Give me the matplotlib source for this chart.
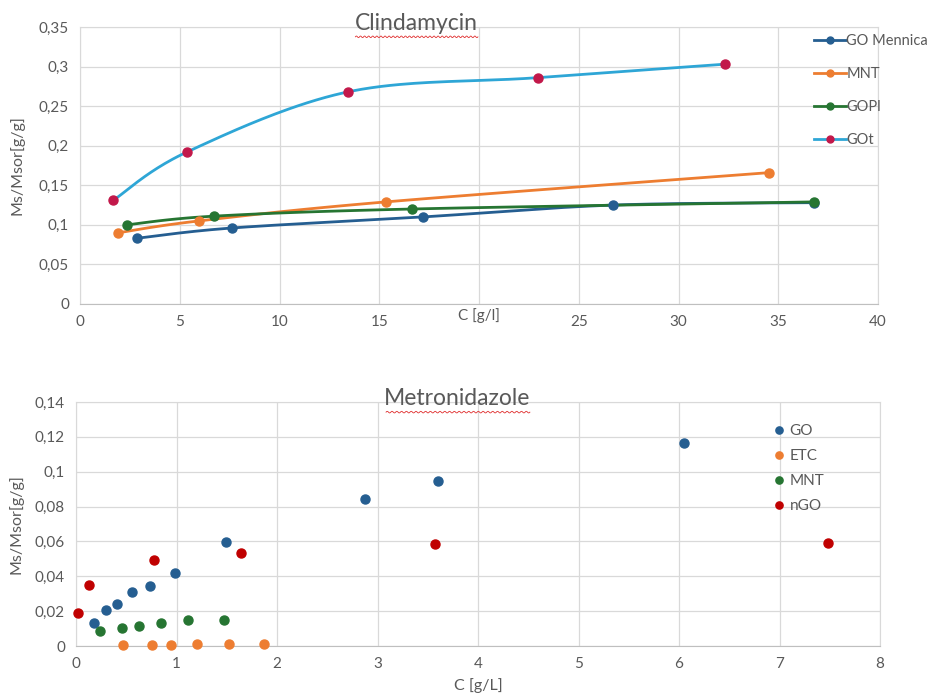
import numpy as np
import matplotlib.pyplot as plt
from matplotlib.ticker import FuncFormatter

plt.rcParams['font.family'] = ['Lato', 'DejaVu Sans']

# Clindamycin sorption isotherms
go_men_c = [2.84, 7.6, 17.19, 26.73, 36.8]
go_men_q = [0.083, 0.096, 0.110, 0.125, 0.128]
mnt_c = [1.92, 5.98, 15.34, 34.55]
mnt_q = [0.090, 0.105, 0.129, 0.166]
gopl_c = [2.34, 6.73, 16.64, 36.77]
gopl_q = [0.100, 0.111, 0.120, 0.129]
got_c = [1.67, 5.36, 13.43, 22.97, 32.33]
got_q = [0.131, 0.192, 0.268, 0.286, 0.303]

# Metronidazole sorption points
go_c = [0.18, 0.30, 0.405, 0.557, 0.739, 0.982, 1.496, 2.879, 3.60, 6.05]
go_q = [0.0134, 0.0205, 0.0241, 0.031, 0.0346, 0.0421, 0.0599, 0.0843, 0.0945, 0.1163]
etc_c = [0.471, 0.753, 0.948, 1.204, 1.519, 1.874]
etc_q = [0.0004, 0.0004, 0.0004, 0.0014, 0.0014, 0.0014]
mnt2_c = [0.239, 0.458, 0.63, 0.849, 1.117, 1.473]
mnt2_q = [0.0084, 0.0106, 0.0113, 0.0134, 0.0147, 0.0147]
ngo_c = [0.017, 0.126, 0.773, 1.642, 3.57, 7.48]
ngo_q = [0.0191, 0.0352, 0.0492, 0.0534, 0.0583, 0.0591]

BLUE = '#255E91'
ORANGE = '#ED7D31'
GREEN = '#267532'
CYAN = '#2EA6D6'
CRIMSON = '#C2184A'
RED = '#C00000'
GRID = '#D9D9D9'
TXT = '#595959'


def smooth(x, y, n=40):
    # Catmull-Rom style bezier segments, similar to spreadsheet smoothed lines
    p = np.column_stack([x, y]).astype(float)
    ext = np.vstack([p[0], p, p[-1]])
    t = np.linspace(0, 1, n)[:, None]
    out = []
    for i in range(1, len(ext) - 2):
        p0, p1, p2, p3 = ext[i - 1], ext[i], ext[i + 1], ext[i + 2]
        c1 = p1 + (p2 - p0) / 6
        c2 = p2 - (p3 - p1) / 6
        seg = ((1 - t) ** 3) * p1 + 3 * ((1 - t) ** 2) * t * c1 + 3 * (1 - t) * t ** 2 * c2 + t ** 3 * p2
        out.append(seg)
    s = np.vstack(out)
    return s[:, 0], s[:, 1]


def comma(v, pos):
    s = ('%.2f' % v).rstrip('0').rstrip('.')
    return s.replace('.', ',')


def style(ax):
    ax.grid(True, color=GRID, linewidth=0.9)
    ax.set_axisbelow(True)
    for sp in ax.spines.values():
        sp.set_color(GRID)
    ax.spines['bottom'].set_color('#BFBFBF')
    ax.tick_params(length=0, colors=TXT, labelsize=11, pad=8)
    ax.yaxis.set_major_formatter(FuncFormatter(comma))


def squiggle(x0, x1, y):
    xs = np.linspace(x0, x1, 200)
    ys = y + 0.0012 * np.sin((xs - x0) / (x1 - x0) * 2 * np.pi * 30)
    fig.add_artist(plt.Line2D(xs, ys, transform=fig.transFigure, color='#E03030', lw=0.6))


fig = plt.figure(figsize=(9.28, 6.95), dpi=100)

# --- Clindamycin ---
ax1 = fig.add_axes([0.0862, 0.5626, 0.860, 0.3986])
series = [
    (go_men_c, go_men_q, BLUE, BLUE, 'GO Mennica'),
    (mnt_c, mnt_q, ORANGE, ORANGE, 'MNT'),
    (gopl_c, gopl_q, GREEN, GREEN, 'GOPl'),
    (got_c, got_q, CYAN, CRIMSON, 'GOt'),
]
for c, q, lc, mc, name in series:
    sx, sy = smooth(c, q)
    ax1.plot(sx, sy, color=lc, lw=2, zorder=2)
    ax1.plot(c, q, 'o', color=mc, ms=6.5, zorder=3)
    ax1.plot([], [], '-o', color=lc, mfc=mc, mec=mc, ms=5, lw=2, label=name)
ax1.set_xlim(0, 40)
ax1.set_ylim(0, 0.35)
ax1.set_xticks(np.arange(0, 41, 5))
# the axis title sits where the "20" label would be
ax1.set_xticklabels(['' if v == 20 else str(v) for v in range(0, 41, 5)])
ax1.set_yticks(np.arange(0, 0.351, 0.05))
style(ax1)
ax1.set_xlabel('C [g/l]', color=TXT, fontsize=11, labelpad=-15)
ax1.set_ylabel('Ms/Msor[g/g]', color=TXT, fontsize=11.5, labelpad=10)
ax1.legend(loc='upper left', bbox_to_anchor=(0.912, 0.995), frameon=False,
           fontsize=10.5, labelcolor=TXT, handlelength=2.2, handletextpad=0.05,
           labelspacing=1.3, borderaxespad=0)
fig.text(0.449, 0.966, 'Clindamycin', ha='center', va='center', fontsize=16.5, color=TXT)
squiggle(0.383, 0.515, 0.947)

# --- Metronidazole ---
ax2 = fig.add_axes([0.0819, 0.0705, 0.8664, 0.3511])
for c, q, col, name in [(go_c, go_q, BLUE, 'GO'), (etc_c, etc_q, ORANGE, 'ETC'),
                        (mnt2_c, mnt2_q, GREEN, 'MNT'), (ngo_c, ngo_q, RED, 'nGO')]:
    ax2.plot(c, q, 'o', color=col, ms=6.5, label=name, clip_on=False, zorder=3)
ax2.set_xlim(0, 8)
ax2.set_ylim(0, 0.14)
ax2.set_xticks(np.arange(0, 9, 1))
ax2.set_yticks(np.arange(0, 0.141, 0.02))
style(ax2)
ax2.set_xlabel('C [g/L]', color=TXT, fontsize=11.5, labelpad=5)
ax2.set_ylabel('Ms/Msor[g/g]', color=TXT, fontsize=11.5, labelpad=8)
ax2.legend(loc='upper left', bbox_to_anchor=(0.861, 0.935), frameon=False,
           fontsize=11, labelcolor=TXT, handlelength=0.6, handletextpad=0.4,
           labelspacing=0.72, borderaxespad=0, markerscale=0.8)
fig.text(0.493, 0.426, 'Metronidazole', ha='center', va='center', fontsize=16.5, color=TXT)
squiggle(0.416, 0.571, 0.407)

fig.savefig('out.png', dpi=100)
